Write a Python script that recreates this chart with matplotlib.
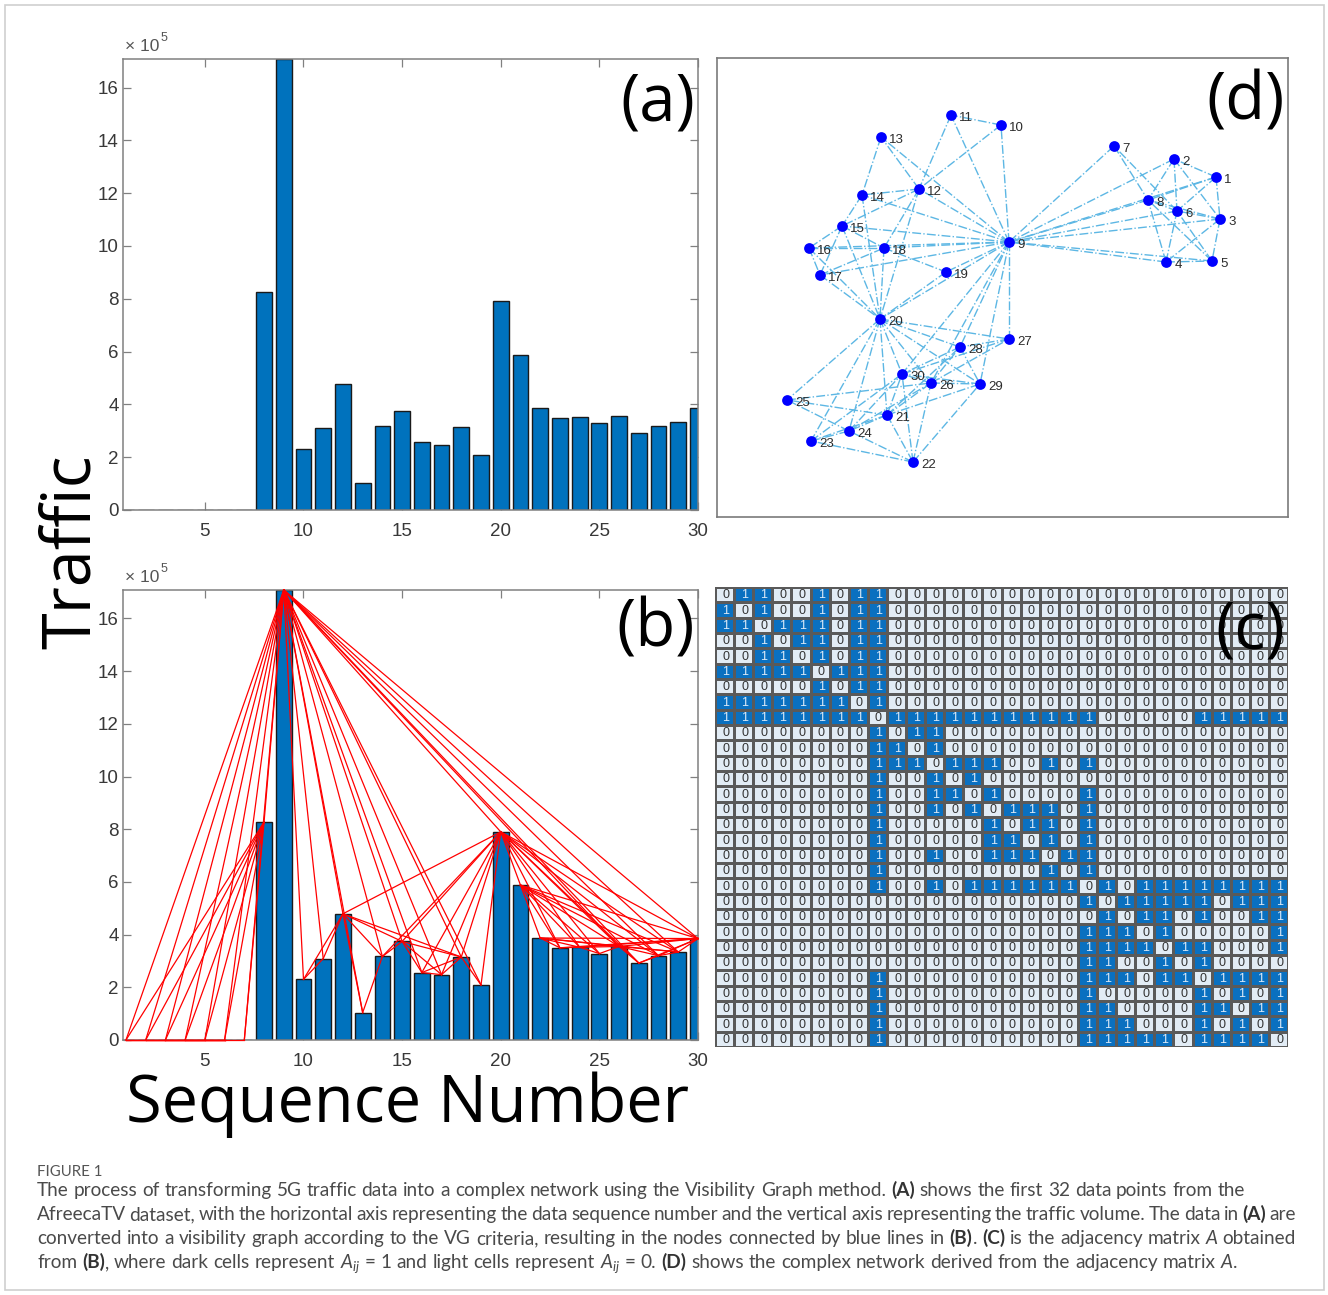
import numpy as np
import matplotlib
matplotlib.use("Agg")
import matplotlib.pyplot as plt
from matplotlib.colors import ListedColormap
from matplotlib.patches import Rectangle

plt.rcParams['font.family'] = ['Liberation Sans', 'DejaVu Sans']
plt.rcParams['mathtext.fontset'] = 'custom'
plt.rcParams['mathtext.rm'] = 'Lato'
plt.rcParams['mathtext.it'] = 'Lato:italic'
plt.rcParams['mathtext.bf'] = 'Lato:bold'

W, H = 1328, 1295

#%% data
seq = np.arange(1, 31)
# traffic volume (x 1e5)
traffic_e5 = [0, 0, 0, 0, 0, 0, 0, 8.27, 17.08, 2.30,
              3.09, 4.79, 1.04, 3.17, 3.74, 2.56, 2.48, 3.15, 2.09, 7.90,
              5.88, 3.87, 3.50, 3.52, 3.28, 3.55, 2.92, 3.20, 3.34, 3.85]
traffic = np.array(traffic_e5) * 1e5

# visibility graph neighbours, read from the adjacency matrix (c)
neighbors = {
    1: [2, 3, 6, 8, 9],
    2: [1, 3, 6, 8, 9],
    3: [1, 2, 4, 5, 6, 8, 9],
    4: [3, 5, 6, 8, 9],
    5: [3, 4, 6, 8, 9],
    6: [1, 2, 3, 4, 5, 7, 8, 9],
    7: [6, 8, 9],
    8: [1, 2, 3, 4, 5, 6, 7, 9],
    9: [1, 2, 3, 4, 5, 6, 7, 8, 10, 11, 12, 13, 14, 15, 16, 17, 18, 19, 20,
        26, 27, 28, 29, 30],
    10: [9, 11, 12],
    11: [9, 10, 12],
    12: [9, 10, 11, 13, 14, 15, 18, 20],
    13: [9, 12, 14],
    14: [9, 12, 13, 15, 20],
    15: [9, 12, 14, 16, 17, 18, 20],
    16: [9, 15, 17, 18, 20],
    17: [9, 15, 16, 18, 20],
    18: [9, 12, 15, 16, 17, 19, 20],
    19: [9, 18, 20],
    20: [9, 12, 14, 15, 16, 17, 18, 19, 21, 23, 24, 25, 26, 27, 28, 29, 30],
    21: [20, 22, 23, 24, 25, 26, 28, 29, 30],
    22: [21, 23, 24, 26, 29, 30],
    23: [20, 21, 22, 24, 30],
    24: [20, 21, 22, 23, 25, 26, 30],
    25: [20, 21, 24, 26],
    26: [9, 20, 21, 22, 24, 25, 27, 28, 29, 30],
    27: [9, 20, 26, 28, 30],
    28: [9, 20, 21, 26, 27, 29, 30],
    29: [9, 20, 21, 22, 26, 28, 30],
    30: [9, 20, 21, 22, 23, 24, 26, 27, 28, 29],
}

# network layout of panel (d)
node_x = [1216, 1174, 1220, 1166, 1212, 1177, 1114, 1148, 1009, 1001,
          951, 919, 881, 862, 842, 809, 820, 884, 946, 880,
          887, 913, 811, 849, 787, 931, 1009, 960, 980, 902]
node_y = [177, 159, 219, 262, 261, 211, 146, 200, 242, 125,
          115, 189, 137, 195, 226, 248, 275, 248, 272, 319,
          415, 462, 441, 431, 400, 383, 339, 347, 384, 374]

caption_lines = [
    [("The process of transforming 5G traffic data into a complex network using the Visibility Graph method. ", 'n'),
     ("(A)", 'b'), (" shows the first 32 data points from the", 'n')],
    [("AfreecaTV dataset, with the horizontal axis representing the data sequence number and the vertical axis representing the traffic volume. The data in ", 'n'),
     ("(A)", 'b'), (" are", 'n')],
    [("converted into a visibility graph according to the VG criteria, resulting in the nodes connected by blue lines in ", 'n'),
     ("(B)", 'b'), (". ", 'n'), ("(C)", 'b'), (" is the adjacency matrix ", 'n'), ("A", 'i'), (" obtained", 'n')],
    [("from ", 'n'), ("(B)", 'b'), (", where dark cells represent ", 'n'), ("$A_{ij}$", 'm'),
     (" = 1 and light cells represent ", 'n'), ("$A_{ij}$", 'm'), (" = 0. ", 'n'), ("(D)", 'b'),
     (" shows the complex network derived from the adjacency matrix ", 'n'), ("A", 'i'), (".", 'n')],
]
caption_justify = [False, True, True, False]

n = len(seq)
A = np.zeros((n, n), dtype=int)
for i, nb in neighbors.items():
    for j in nb:
        A[i - 1, j - 1] = 1
        A[j - 1, i - 1] = 1

#%% style
BAR = '#0072BD'
SPINE = '#808080'
TICK = '#383838'
CELL_LIGHT = '#E2ECF5'
CELL_DARK = '#0A70C0'

fig = plt.figure(figsize=(W / 100, H / 100), dpi=100)
renderer = fig.canvas.get_renderer()


def px_axes(l, t, r, b):
    return fig.add_axes([l / W, 1 - b / H, (r - l) / W, (b - t) / H])


def fx(x):
    return x / W


def fy(y):
    return 1 - y / H


# outer frame
fig.add_artist(Rectangle((fx(5), fy(1290)), (1319) / W, (1285) / H, transform=fig.transFigure,
                         fill=False, edgecolor='#cfcfcf', linewidth=1.2))


def bar_panel(ax, lines):
    ax.bar(seq, traffic / 1e5, width=0.8, color=BAR, edgecolor='#1a1a1a', linewidth=1.0, zorder=2)
    if lines:
        for i in range(n):
            for j in range(i + 1, n):
                if A[i, j]:
                    ax.plot([seq[i], seq[j]], [traffic[i] / 1e5, traffic[j] / 1e5],
                            color='red', lw=0.9, zorder=3, clip_on=False)
    ax.set_xlim(0.85, 30)
    ax.set_ylim(0, traffic.max() / 1e5)
    ax.set_xticks([5, 10, 15, 20, 25, 30])
    ax.set_yticks(range(0, 17, 2))
    ax.tick_params(direction='in', top=True, right=True, length=6, width=0.9,
                   color=SPINE, labelcolor=TICK, labelsize=13.5)
    ax.tick_params(axis='x', pad=9)
    ax.tick_params(axis='y', pad=3)
    for s in ax.spines.values():
        s.set_color(SPINE)
        s.set_linewidth(1.1)
    # x 10^5 multiplier
    t = fig.text(fx(ax.get_position().x0 * W + 2), ax.get_position().y1 + 5 / H, "\u00d7 10",
                 fontsize=12.5, color='#555555', ha='left', va='bottom')
    bb = t.get_window_extent(renderer)
    fig.text((bb.x1 + 1) / W, ax.get_position().y1 + 15 / H, "5", fontsize=9,
             color='#555555', ha='left', va='bottom')


ax_a = px_axes(123, 59, 698, 510)
bar_panel(ax_a, False)
ax_a.text(0.995, 0.975, "(a)", transform=ax_a.transAxes, ha='right', va='top',
          fontsize=47, family='Open Sans', color='black')

ax_b = px_axes(123, 590, 698, 1040)
bar_panel(ax_b, True)
ax_b.text(0.995, 0.985, "(b)", transform=ax_b.transAxes, ha='right', va='top',
          fontsize=47, family='Open Sans', color='black', zorder=5)

# network panel (d)
ax_d = px_axes(717, 58, 1288, 517)
for i in range(n):
    for j in range(i + 1, n):
        if A[i, j]:
            ax_d.plot([node_x[i], node_x[j]], [node_y[i], node_y[j]], color='#5DB7E4',
                      lw=1.0, ls='-.', zorder=1)
ax_d.scatter(node_x, node_y, s=60, color='#0000FF', zorder=3, linewidths=0)
for i in range(n):
    ax_d.annotate(str(seq[i]), (node_x[i], node_y[i]), xytext=(6, -2.5), textcoords='offset points',
                  fontsize=9.5, color='#2b2b2b', ha='left', va='center', zorder=4)
ax_d.set_xlim(717, 1288)
ax_d.set_ylim(517, 58)
ax_d.set_xticks([])
ax_d.set_yticks([])
for s in ax_d.spines.values():
    s.set_color('#7a7a7a')
    s.set_linewidth(1.2)
ax_d.text(0.995, 0.975, "(d)", transform=ax_d.transAxes, ha='right', va='top',
          fontsize=47, family='Open Sans', color='black')

# adjacency matrix panel (c)
ax_c = px_axes(715, 587, 1288, 1047)
ax_c.pcolormesh(np.arange(n + 1), np.arange(n + 1), A, cmap=ListedColormap([CELL_LIGHT, CELL_DARK]),
                edgecolors='#5a5a5a', linewidth=1.0, vmin=0, vmax=1)
for i in range(n):
    for j in range(n):
        ax_c.text(j + 0.56, i + 0.55, str(A[i, j]), ha='center', va='center', fontsize=9,
                  color='#dbe9f7' if A[i, j] else '#333333')
ax_c.set_xlim(0, n)
ax_c.set_ylim(n, 0)
ax_c.axis('off')
ax_c.text(0.995, 0.975, "(c)", transform=ax_c.transAxes, ha='right', va='top',
          fontsize=47, family='Open Sans', color='black', zorder=5)

# big axis titles
fig.text(fx(72), fy(552), "Traffic", rotation=90, ha='center', va='center',
         fontsize=48, family='Open Sans', color='black')
fig.text(fx(407), fy(1122), "Sequence Number", ha='center', va='baseline',
         fontsize=46.7, family='Open Sans', color='black')

#%% caption
fig.text(fx(37), fy(1176), "FIGURE 1", fontsize=10.8, family='Lato', color='#555555',
         ha='left', va='baseline')

CAP_FS = 13.7
CAP_COLOR = '#4a4a4a'


def cap_text(x, y, s, kind):
    kw = dict(fontsize=CAP_FS, family='Lato', color=CAP_COLOR, ha='left', va='baseline')
    if kind == 'b':
        kw['weight'] = 'bold'
        kw['color'] = '#333333'
    elif kind == 'i':
        kw['style'] = 'italic'
    return fig.text(x / W, fy(y), s, **kw)


probe = cap_text(0, -100, "a a", 'n')
w_aa = probe.get_window_extent(renderer).width
probe.set_text("aa")
space_w = w_aa - probe.get_window_extent(renderer).width
probe.remove()

for k, runs in enumerate(caption_lines):
    y = 1196 + 24 * k
    pieces = []
    pending = False
    for text, kind in runs:
        parts = text.split(' ')
        for m, p in enumerate(parts):
            if m > 0:
                pending = True
            if p:
                pieces.append([p, kind, pending])
                pending = False
    artists = []
    widths = []
    for p, kind, gap in pieces:
        t = cap_text(0, y, p, kind)
        artists.append(t)
        widths.append(t.get_window_extent(renderer).width)
    ngap = sum(1 for p in pieces if p[2])
    sp = space_w
    if caption_justify[k] and ngap:
        sp = (1296 - 37 - sum(widths)) / ngap
    x = 37
    for (p, kind, gap), t, w in zip(pieces, artists, widths):
        if gap:
            x += sp
        t.set_x(x / W)
        x += w

fig.savefig("out.png", dpi=100)
